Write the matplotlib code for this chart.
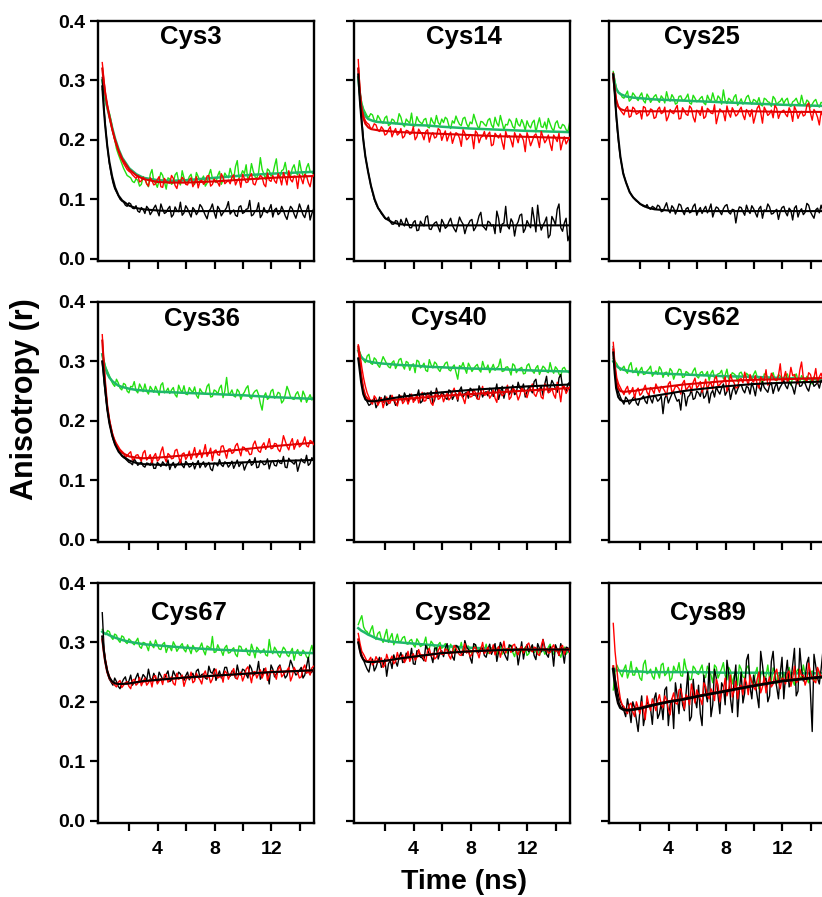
import numpy as np
import matplotlib
matplotlib.use("Agg")
import matplotlib.pyplot as plt

plt.rcParams['font.family'] = ['Liberation Sans', 'DejaVu Sans']
plt.rcParams['font.weight'] = 'bold'

# ---------------- data (anisotropy values in units of 0.001) ----------------
# measured traces: "main" samples every 0.25 ns from 0.1 ns, "mid" samples halfway between
t_start, t_step, n_samp = 0.1, 0.25, 60
# times of the fitted curves
t_fit = [0.1, 0.2, 0.3, 0.45, 0.6, 0.8, 1.0, 1.25, 1.5, 2.0, 2.5, 3.0, 4.0, 5.0, 6.0, 8.0, 10.0, 12.0, 14.9]

titles = ["Cys3", "Cys14", "Cys25", "Cys36", "Cys40", "Cys62", "Cys67", "Cys82", "Cys89"]
y_ticks = [0.0, 0.1, 0.2, 0.3, 0.4]
y_tick_labels = ["0.0", "0.1", "0.2", "0.3", "0.4"]
x_ticks = [2, 4, 6, 8, 10, 12, 14]
x_tick_labels = ["", "4", "", "8", "", "12", ""]

# ---- Cys3
cys3_black = [305, 215, 160, 128, 112, 100, 95, 88, 92, 84, 80, 86,
              76, 84, 79, 90, 72, 83, 78, 88, 74, 81, 95, 77,
              84, 70, 82, 79, 87, 73, 80, 92, 68, 83, 77, 86,
              75, 82, 71, 89, 78, 84, 72, 80, 94, 74, 79, 83,
              70, 85, 77, 81, 66, 88, 75, 79, 83, 69, 90, 76]
cys3_black_mid = [250, 185, 142, 118, 106, 97, 90, 94, 85, 89, 78, 83,
                  88, 74, 85, 80, 92, 76, 84, 70, 87, 79, 73, 89,
                  77, 86, 74, 91, 80, 67, 84, 78, 88, 72, 81, 96,
                  79, 73, 87, 76, 83, 98, 74, 82, 69, 86, 77, 91,
                  82, 74, 88, 72, 79, 84, 68, 92, 74, 81, 65, 84]
cys3_red = [330, 272, 238, 212, 190, 172, 160, 150, 145, 138, 140, 131,
            134, 122, 131, 126, 138, 120, 130, 127, 135, 118, 129, 133,
            124, 136, 127, 119, 132, 128, 140, 125, 130, 122, 137, 129,
            126, 141, 131, 120, 135, 129, 143, 124, 134, 137, 121, 132,
            140, 127, 136, 145, 124, 133, 139, 118, 135, 142, 128, 137]
cys3_red_mid = [300, 255, 225, 200, 181, 166, 155, 147, 141, 135, 129, 137,
                126, 136, 124, 133, 121, 135, 128, 140, 123, 132, 137, 125,
                133, 121, 138, 130, 125, 139, 122, 134, 128, 143, 126, 132,
                137, 124, 135, 142, 128, 138, 126, 133, 140, 125, 144, 130,
                131, 143, 124, 136, 148, 129, 138, 142, 126, 139, 121, 141]
cys3_green = [285, 262, 245, 215, 185, 168, 152, 140, 136, 128, 132, 125,
              135, 121, 150, 127, 132, 140, 117, 134, 128, 145, 124, 136,
              130, 142, 125, 138, 133, 122, 141, 135, 128, 147, 132, 139,
              152, 134, 165, 140, 143, 131, 160, 138, 145, 150, 133, 148,
              142, 168, 137, 150, 144, 139, 158, 141, 149, 136, 160, 145]
cys3_green_mid = [275, 250, 232, 200, 176, 160, 146, 138, 130, 134, 122, 138,
                  126, 142, 130, 120, 145, 129, 136, 125, 141, 130, 148, 127,
                  138, 128, 145, 131, 139, 127, 150, 133, 140, 125, 144, 136,
                  141, 155, 136, 148, 158, 140, 147, 135, 170, 142, 151, 139,
                  156, 140, 148, 162, 138, 152, 145, 165, 140, 153, 147, 142]
cys3_black_fit = [290, 255, 225, 190, 163, 138, 120, 106, 98, 89, 85, 83, 81, 80, 80, 80, 80, 80, 80]
cys3_red_fit = [320, 298, 280, 258, 240, 218, 200, 182, 168, 150, 140, 134, 129, 128, 128, 130, 133, 136, 139]
cys3_green_fit = [300, 285, 272, 255, 240, 220, 202, 184, 170, 152, 142, 136, 132, 131, 132, 136, 140, 143, 146]

# ---- Cys14
cys14_black = [320, 232, 172, 140, 112, 92, 82, 72, 66, 62, 58, 63,
               66, 55, 60, 52, 64, 48, 58, 70, 50, 56, 62, 45,
               60, 54, 68, 50, 57, 63, 42, 58, 66, 52, 72, 55,
               48, 61, 57, 80, 44, 60, 55, 67, 38, 62, 75, 50,
               58, 86, 45, 63, 56, 70, 40, 65, 83, 52, 60, 30]
cys14_black_mid = [262, 198, 155, 124, 100, 86, 76, 68, 70, 58, 64, 54,
                   59, 68, 52, 61, 47, 63, 55, 72, 49, 60, 53, 66,
                   51, 62, 56, 45, 70, 58, 53, 64, 47, 60, 78, 52,
                   63, 55, 42, 68, 58, 88, 50, 61, 56, 73, 44, 64,
                   52, 67, 90, 48, 62, 35, 71, 57, 92, 46, 68, 40]
cys14_red = [335, 252, 232, 226, 220, 225, 214, 218, 210, 222, 213, 208,
             219, 206, 215, 211, 200, 218, 209, 214, 196, 212, 205, 216,
             208, 198, 213, 204, 210, 189, 211, 203, 207, 215, 195, 206,
             201, 213, 192, 207, 210, 184, 204, 199, 212, 195, 206, 180,
             203, 198, 210, 187, 205, 200, 193, 208, 197, 183, 205, 199]
cys14_red_mid = [280, 240, 228, 219, 227, 216, 222, 208, 217, 205, 219, 211,
                 203, 216, 209, 222, 205, 213, 200, 217, 208, 203, 219, 199,
                 215, 207, 194, 212, 203, 217, 200, 209, 185, 211, 204, 214,
                 209, 190, 211, 203, 196, 214, 207, 188, 205, 210, 199, 212,
                 190, 207, 201, 214, 195, 208, 182, 203, 211, 196, 193, 204]
cys14_green = [305, 262, 246, 238, 242, 230, 236, 228, 240, 226, 233, 229,
               238, 222, 231, 245, 224, 232, 227, 236, 220, 230, 241, 225,
               229, 235, 219, 228, 232, 224, 238, 221, 227, 233, 218, 230,
               223, 236, 220, 228, 241, 217, 225, 231, 219, 226, 234, 216,
               224, 229, 213, 237, 221, 218, 227, 215, 232, 219, 224, 214]
cys14_green_mid = [278, 252, 240, 244, 233, 241, 230, 237, 224, 235, 227, 244,
                   226, 235, 228, 222, 239, 229, 234, 222, 237, 226, 229, 235,
                   238, 224, 232, 240, 226, 236, 227, 230, 243, 224, 231, 226,
                   233, 225, 238, 223, 229, 226, 235, 222, 236, 223, 227, 232,
                   220, 233, 226, 222, 230, 236, 219, 228, 221, 226, 217, 229]
cys14_black_fit = [310, 270, 240, 200, 172, 145, 122, 100, 85, 68, 61, 58, 56, 56, 56, 56, 56, 56, 56]
cys14_red_fit = [320, 285, 258, 237, 227, 221, 218, 217, 216, 215, 214, 213, 212, 211, 210, 208, 206, 205, 203]
cys14_green_fit = [305, 280, 262, 248, 240, 235, 233, 231, 230, 229, 228, 227, 225, 224, 222, 219, 217, 215, 213]

# ---- Cys25
cys25_black = [312, 225, 170, 140, 122, 108, 100, 95, 90, 87, 85, 88,
               83, 88, 80, 94, 77, 85, 82, 90, 74, 86, 79, 92,
               81, 76, 88, 83, 70, 87, 79, 84, 91, 75, 82, 78,
               86, 73, 81, 89, 77, 84, 68, 80, 87, 76, 83, 79,
               88, 72, 81, 85, 70, 84, 78, 90, 73, 82, 77, 80]
cys25_black_mid = [268, 195, 154, 130, 114, 104, 97, 92, 88, 91, 83, 86,
                   90, 79, 87, 82, 89, 75, 92, 80, 84, 77, 88, 73,
                   86, 83, 77, 92, 80, 85, 74, 89, 78, 83, 60, 87,
                   79, 90, 76, 84, 70, 88, 82, 92, 75, 80, 66, 86,
                   78, 85, 65, 89, 80, 74, 93, 79, 68, 85, 90, 76]
cys25_red = [312, 262, 250, 242, 256, 240, 252, 245, 235, 254, 243, 250,
             238, 255, 246, 232, 251, 244, 258, 236, 249, 241, 253, 230,
             247, 256, 239, 250, 244, 227, 252, 246, 257, 238, 248, 243,
             255, 234, 246, 251, 240, 258, 228, 249, 244, 237, 253, 245,
             250, 239, 247, 256, 236, 248, 242, 262, 233, 246, 225, 240]
cys25_red_mid = [285, 255, 246, 252, 238, 255, 243, 249, 256, 240, 252, 236,
                 251, 244, 255, 239, 246, 252, 235, 254, 243, 257, 238, 250,
                 241, 236, 253, 245, 259, 240, 248, 232, 245, 254, 240, 250,
                 242, 251, 239, 228, 253, 246, 255, 241, 250, 258, 236, 248,
                 243, 254, 231, 249, 244, 240, 258, 245, 251, 238, 247, 230]
cys25_green = [315, 285, 278, 270, 282, 268, 275, 266, 279, 262, 272, 268,
               276, 263, 270, 281, 265, 271, 262, 274, 267, 277, 260, 270,
               266, 273, 259, 268, 279, 263, 270, 284, 261, 267, 272, 258,
               269, 264, 275, 260, 266, 271, 257, 268, 263, 273, 259, 265,
               261, 270, 256, 266, 262, 275, 258, 264, 260, 268, 255, 262]
cys25_green_mid = [298, 280, 272, 276, 265, 279, 270, 274, 266, 277, 263, 273,
                   267, 274, 262, 269, 276, 260, 273, 266, 271, 262, 275, 264,
                   270, 262, 275, 265, 268, 274, 260, 266, 270, 262, 276, 263,
                   260, 272, 265, 268, 262, 259, 270, 264, 256, 269, 263, 270,
                   267, 258, 264, 270, 259, 262, 267, 255, 265, 259, 263, 257]
cys25_black_fit = [310, 280, 245, 205, 172, 143, 128, 112, 103, 92, 86, 83, 81, 80, 80, 80, 80, 80, 80]
cys25_red_fit = [305, 285, 268, 256, 252, 250, 249, 249, 248, 248, 248, 248, 248, 248, 248, 248, 248, 247, 247]
cys25_green_fit = [310, 296, 286, 280, 277, 275, 273, 272, 271, 270, 269, 268, 267, 266, 265, 263, 261, 259, 257]

# ---- Cys36
cys36_black = [300, 238, 198, 170, 156, 146, 138, 133, 129, 136, 125, 131,
               122, 128, 133, 120, 127, 131, 124, 118, 130, 126, 134, 121,
               128, 124, 119, 133, 127, 122, 130, 116, 128, 135, 123, 129,
               126, 120, 134, 128, 117, 131, 125, 138, 122, 130, 127, 119,
               133, 124, 129, 140, 121, 132, 127, 115, 136, 129, 125, 138]
cys36_black_mid = [265, 215, 183, 162, 150, 141, 136, 130, 126, 131, 128, 124,
                   129, 125, 120, 130, 123, 127, 134, 126, 121, 129, 125, 132,
                   122, 130, 127, 121, 131, 126, 119, 129, 124, 126, 131, 122,
                   132, 127, 123, 130, 125, 135, 128, 121, 133, 126, 136, 130,
                   125, 134, 128, 122, 137, 130, 134, 126, 131, 142, 128, 134]
cys36_red = [345, 250, 203, 176, 162, 152, 146, 141, 148, 136, 143, 132,
             150, 138, 129, 145, 135, 156, 131, 142, 137, 152, 128, 146,
             140, 135, 155, 143, 138, 160, 146, 133, 151, 142, 158, 137,
             153, 147, 162, 141, 155, 150, 144, 166, 149, 158, 152, 170,
             154, 161, 148, 175, 157, 163, 152, 168, 159, 173, 156, 165]
cys36_red_mid = [290, 222, 188, 168, 157, 149, 138, 145, 134, 142, 137, 146,
                 134, 143, 140, 132, 148, 139, 145, 136, 150, 140, 144, 135,
                 149, 144, 138, 151, 147, 140, 154, 149, 143, 157, 148, 152,
                 145, 158, 151, 156, 149, 143, 160, 155, 147, 163, 158, 153,
                 162, 152, 158, 166, 151, 170, 160, 156, 164, 158, 167, 160]
cys36_green = [310, 290, 276, 262, 270, 255, 263, 250, 258, 266, 247, 256,
               262, 245, 253, 258, 243, 264, 250, 246, 256, 240, 252, 259,
               244, 251, 257, 238, 249, 246, 262, 241, 250, 255, 239, 273,
               246, 242, 253, 236, 248, 259, 237, 250, 244, 218, 247, 239,
               253, 241, 246, 234, 258, 240, 236, 249, 232, 243, 238, 235]
cys36_green_mid = [300, 283, 268, 258, 264, 252, 261, 247, 257, 251, 262, 249,
                   250, 258, 248, 251, 260, 247, 255, 252, 244, 260, 248, 245,
                   256, 248, 243, 254, 246, 258, 240, 252, 245, 260, 250, 246,
                   252, 240, 249, 244, 255, 240, 246, 252, 229, 241, 236, 250,
                   238, 248, 230, 244, 250, 237, 245, 240, 250, 231, 244, 241]
cys36_black_fit = [300, 280, 255, 220, 196, 175, 160, 148, 141, 133, 129, 127, 126, 126, 127, 128, 130, 132, 134]
cys36_red_fit = [335, 300, 265, 225, 200, 178, 163, 152, 146, 140, 138, 137, 138, 140, 142, 147, 152, 157, 163]
cys36_green_fit = [312, 300, 290, 280, 273, 267, 263, 259, 257, 254, 252, 251, 249, 248, 247, 245, 243, 240, 237]

# ---- Cys40
cys40_black = [305, 268, 238, 226, 234, 222, 240, 231, 226, 243, 235, 229,
               238, 247, 230, 241, 235, 252, 233, 244, 238, 229, 255, 240,
               245, 236, 250, 242, 233, 257, 246, 238, 252, 244, 259, 240,
               249, 255, 241, 262, 247, 238, 256, 250, 244, 265, 252, 240,
               258, 247, 270, 251, 243, 275, 256, 262, 248, 278, 255, 262]
cys40_black_mid = [290, 250, 232, 228, 238, 228, 235, 242, 230, 237, 226, 244,
                   233, 240, 245, 236, 241, 230, 247, 238, 250, 235, 243, 248,
                   239, 252, 236, 246, 251, 240, 248, 255, 243, 237, 251, 247,
                   242, 253, 248, 236, 258, 252, 244, 260, 247, 255, 262, 249,
                   253, 266, 250, 258, 262, 248, 268, 254, 272, 257, 250, 265]
cys40_red = [328, 290, 258, 240, 228, 238, 232, 222, 240, 230, 236, 225,
             242, 233, 228, 245, 236, 230, 248, 234, 241, 226, 250, 238,
             232, 246, 239, 255, 236, 243, 229, 250, 241, 247, 236, 258,
             244, 238, 252, 231, 249, 245, 260, 240, 252, 235, 256, 246,
             250, 262, 241, 255, 237, 259, 249, 244, 265, 232, 258, 252]
cys40_red_mid = [312, 272, 247, 232, 242, 226, 239, 233, 229, 243, 231, 238,
                 229, 240, 236, 231, 244, 239, 233, 247, 230, 242, 236, 245,
                 240, 235, 248, 242, 250, 238, 246, 240, 253, 237, 249, 243,
                 250, 243, 238, 254, 242, 250, 236, 255, 247, 243, 251, 239,
                 256, 245, 250, 240, 262, 247, 255, 238, 252, 258, 246, 257]
cys40_green = [322, 306, 298, 312, 295, 303, 290, 308, 296, 289, 301, 294,
               305, 287, 298, 293, 281, 300, 292, 285, 303, 289, 296, 283,
               291, 299, 284, 294, 270, 290, 288, 297, 283, 292, 286, 300,
               287, 281, 295, 289, 304, 284, 291, 277, 293, 286, 290, 280,
               296, 284, 289, 278, 292, 283, 298, 280, 287, 275, 290, 283]
cys40_green_mid = [315, 302, 309, 297, 306, 294, 299, 302, 291, 298, 288, 303,
                   293, 300, 285, 296, 302, 289, 297, 283, 294, 299, 287, 291,
                   297, 286, 290, 282, 293, 298, 280, 291, 288, 295, 282, 290,
                   294, 288, 285, 292, 283, 290, 286, 296, 281, 288, 279, 293,
                   287, 280, 293, 285, 289, 281, 286, 291, 279, 288, 284, 280]
cys40_black_fit = [305, 285, 265, 245, 236, 233, 233, 233, 234, 236, 238, 240, 243, 246, 248, 252, 255, 258, 261]
cys40_red_fit = [325, 300, 278, 255, 242, 236, 234, 233, 233, 234, 235, 236, 238, 240, 242, 245, 248, 251, 255]
cys40_green_fit = [318, 312, 308, 304, 302, 300, 299, 298, 297, 296, 295, 294, 293, 291, 290, 288, 287, 285, 283]

# ---- Cys62
cys62_black = [325, 258, 240, 228, 236, 232, 241, 226, 238, 233, 245, 230,
               240, 236, 212, 244, 238, 249, 233, 218, 246, 240, 252, 238,
               247, 255, 242, 230, 251, 257, 245, 262, 249, 236, 258, 253,
               261, 247, 256, 264, 242, 259, 266, 252, 260, 246, 264, 257,
               268, 254, 262, 245, 270, 259, 263, 250, 268, 261, 255, 266]
cys62_black_mid = [285, 248, 233, 240, 228, 238, 230, 236, 242, 229, 237, 243,
                   233, 242, 238, 230, 245, 240, 236, 248, 225, 243, 236, 250,
                   241, 238, 253, 246, 240, 250, 255, 243, 257, 250, 245, 260,
                   252, 258, 245, 255, 262, 250, 256, 248, 264, 257, 250, 262,
                   259, 265, 256, 262, 258, 266, 255, 263, 258, 264, 268, 260]
cys62_red = [332, 272, 256, 244, 258, 249, 238, 255, 246, 260, 243, 252,
             262, 248, 255, 242, 266, 251, 258, 245, 268, 256, 250, 272,
             259, 248, 270, 262, 253, 275, 261, 266, 250, 278, 264, 257,
             271, 282, 260, 268, 276, 255, 270, 286, 263, 274, 268, 296,
             272, 265, 290, 278, 262, 299, 270, 281, 266, 288, 274, 270]
cys62_red_mid = [295, 262, 250, 253, 245, 256, 251, 243, 253, 248, 256, 246,
                 255, 258, 250, 262, 248, 258, 254, 263, 251, 260, 265, 255,
                 266, 258, 252, 264, 270, 258, 265, 274, 260, 268, 255, 270,
                 264, 270, 278, 265, 262, 274, 268, 260, 280, 269, 276, 265,
                 283, 270, 276, 268, 285, 272, 266, 278, 272, 264, 280, 273]
cys62_green = [305, 296, 285, 292, 280, 298, 283, 276, 290, 279, 287, 275,
               284, 291, 273, 282, 288, 270, 280, 286, 274, 281, 277, 289,
               272, 283, 278, 268, 285, 276, 280, 271, 287, 274, 279, 266,
               282, 273, 277, 269, 284, 272, 262, 278, 270, 281, 267, 275,
               271, 279, 260, 274, 269, 276, 265, 272, 262, 270, 267, 273]
cys62_green_mid = [300, 290, 288, 284, 293, 281, 289, 285, 278, 284, 292, 280,
                   278, 286, 281, 275, 284, 279, 287, 273, 283, 277, 284, 275,
                   281, 276, 283, 280, 272, 279, 285, 277, 270, 281, 276, 280,
                   275, 280, 272, 278, 274, 269, 279, 273, 276, 270, 278, 271,
                   277, 268, 273, 279, 265, 271, 275, 268, 274, 266, 271, 269]
cys62_black_fit = [315, 280, 255, 240, 235, 233, 233, 234, 235, 237, 240, 242, 246, 250, 253, 258, 262, 264, 266]
cys62_red_fit = [320, 290, 268, 255, 250, 249, 249, 250, 250, 252, 254, 255, 258, 261, 263, 267, 269, 270, 272]
cys62_green_fit = [300, 296, 293, 290, 288, 286, 285, 284, 283, 282, 281, 280, 279, 278, 277, 275, 274, 272, 270]

# ---- Cys67
cys67_black = [350, 262, 238, 228, 234, 222, 238, 230, 245, 233, 248, 237,
               242, 255, 236, 240, 250, 238, 246, 234, 252, 241, 247, 236,
               250, 243, 238, 255, 246, 240, 260, 248, 236, 252, 246, 258,
               243, 250, 262, 245, 253, 240, 256, 248, 268, 244, 252, 230,
               255, 247, 262, 250, 244, 270, 252, 248, 258, 245, 275, 250]
cys67_black_mid = [290, 248, 233, 240, 226, 232, 242, 235, 228, 241, 234, 246,
                   236, 240, 248, 232, 244, 239, 252, 237, 245, 250, 240, 244,
                   237, 248, 252, 241, 247, 238, 250, 256, 244, 240, 258, 245,
                   252, 240, 248, 255, 246, 262, 244, 250, 238, 256, 248, 262,
                   242, 258, 250, 240, 256, 262, 245, 253, 240, 260, 248, 255]
cys67_red = [310, 268, 243, 232, 225, 236, 228, 234, 222, 238, 231, 227,
             240, 232, 225, 244, 235, 229, 246, 237, 231, 248, 240, 226,
             243, 250, 235, 241, 230, 252, 244, 238, 255, 242, 233, 249,
             245, 256, 238, 250, 243, 259, 232, 251, 247, 240, 257, 244,
             252, 238, 260, 246, 253, 235, 258, 249, 242, 262, 251, 257]
cys67_red_mid = [285, 252, 236, 228, 233, 224, 232, 226, 236, 228, 241, 234,
                 228, 238, 243, 230, 239, 246, 233, 242, 228, 238, 245, 236,
                 239, 232, 248, 237, 246, 240, 232, 250, 240, 246, 252, 238,
                 250, 241, 247, 235, 255, 246, 250, 240, 254, 248, 236, 252,
                 246, 255, 242, 250, 258, 243, 252, 240, 256, 248, 245, 260]
cys67_green = [322, 313, 318, 305, 312, 300, 309, 298, 303, 296, 307, 290,
               299, 286, 295, 304, 289, 297, 283, 292, 301, 285, 294, 288,
               296, 281, 290, 287, 299, 279, 292, 310, 284, 289, 278, 295,
               283, 291, 276, 293, 285, 280, 297, 274, 288, 284, 279, 305,
               281, 287, 275, 292, 279, 284, 270, 288, 278, 283, 272, 295]
cys67_green_mid = [316, 320, 309, 314, 304, 311, 301, 306, 299, 302, 293, 300,
                   294, 302, 291, 296, 288, 300, 292, 286, 295, 290, 298, 284,
                   289, 295, 284, 292, 286, 294, 288, 283, 296, 286, 291, 282,
                   288, 280, 294, 285, 290, 278, 287, 292, 282, 289, 277, 286,
                   292, 279, 284, 288, 276, 290, 283, 279, 287, 276, 285, 281]
cys67_black_fit = [310, 288, 270, 252, 241, 234, 231, 230, 230, 231, 233, 235, 237, 239, 241, 244, 247, 250, 253]
cys67_red_fit = [305, 285, 268, 250, 240, 233, 231, 230, 230, 231, 233, 234, 237, 239, 241, 244, 247, 250, 253]
cys67_green_fit = [318, 316, 315, 314, 312, 310, 308, 306, 304, 301, 299, 297, 295, 293, 291, 288, 286, 284, 282]

# ---- Cys82
cys82_black = [300, 278, 262, 250, 272, 258, 275, 262, 243, 270, 279, 260,
               283, 268, 277, 290, 263, 285, 274, 295, 280, 266, 291, 283,
               276, 298, 285, 270, 293, 281, 303, 288, 265, 296, 284, 290,
               275, 297, 288, 268, 300, 283, 270, 294, 287, 262, 301, 290,
               284, 296, 271, 290, 305, 280, 293, 260, 288, 298, 265, 291]
cys82_black_mid = [288, 270, 255, 266, 252, 268, 258, 272, 264, 256, 268, 275,
                   266, 282, 272, 264, 286, 275, 269, 288, 278, 290, 272, 286,
                   290, 280, 276, 295, 286, 278, 292, 274, 298, 282, 290, 278,
                   289, 280, 298, 284, 292, 276, 296, 285, 292, 280, 272, 296,
                   290, 278, 298, 284, 292, 275, 288, 296, 278, 285, 292, 282]
cys82_red = [315, 285, 274, 270, 262, 276, 266, 258, 280, 271, 264, 283,
             273, 266, 285, 276, 270, 288, 279, 268, 290, 282, 275, 293,
             280, 287, 272, 295, 284, 278, 298, 286, 280, 292, 274, 300,
             286, 281, 296, 288, 275, 302, 290, 283, 297, 279, 293, 288,
             299, 284, 291, 278, 305, 289, 283, 296, 287, 292, 280, 290]
cys82_red_mid = [298, 280, 268, 275, 266, 270, 274, 262, 270, 277, 268, 272,
                 279, 272, 268, 281, 275, 279, 272, 286, 277, 272, 286, 280,
                 289, 278, 284, 290, 279, 288, 282, 276, 291, 284, 288, 281,
                 292, 285, 279, 293, 287, 282, 289, 295, 284, 290, 282, 296,
                 287, 292, 280, 294, 286, 282, 291, 285, 278, 295, 287, 284]
cys82_green = [330, 345, 320, 312, 328, 305, 318, 300, 322, 308, 296, 314,
               302, 310, 297, 305, 292, 301, 295, 309, 290, 298, 286, 300,
               293, 288, 297, 283, 292, 300, 287, 294, 281, 296, 289, 285,
               297, 284, 291, 279, 293, 287, 282, 295, 276, 289, 286, 292,
               281, 294, 285, 278, 290, 284, 297, 280, 288, 275, 292, 285]
cys82_green_mid = [338, 326, 318, 321, 310, 315, 306, 312, 300, 315, 304, 300,
                   308, 298, 303, 296, 306, 293, 298, 288, 302, 292, 296, 290,
                   298, 285, 291, 295, 288, 282, 293, 286, 290, 284, 292, 287,
                   281, 290, 286, 293, 280, 288, 294, 283, 290, 282, 287, 278,
                   289, 283, 291, 286, 280, 292, 285, 289, 282, 287, 280, 288]
cys82_black_fit = [300, 288, 278, 271, 268, 267, 267, 267, 268, 269, 271, 273, 276, 279, 282, 285, 287, 288, 288]
cys82_red_fit = [305, 290, 280, 272, 269, 268, 268, 268, 268, 269, 271, 273, 276, 279, 282, 285, 287, 288, 288]
cys82_green_fit = [324, 322, 320, 318, 316, 313, 311, 308, 306, 303, 301, 300, 298, 296, 294, 291, 289, 287, 285]

# ---- Cys89
cys89_black = [258, 225, 200, 185, 205, 165, 190, 150, 210, 178, 195, 162,
               215, 180, 170, 225, 195, 155, 210, 230, 185, 250, 175, 205,
               228, 160, 215, 265, 195, 240, 180, 225, 270, 205, 235, 175,
               250, 215, 280, 205, 230, 190, 262, 240, 210, 285, 225, 248,
               205, 270, 235, 290, 218, 255, 240, 275, 150, 260, 230, 285]
cys89_black_mid = [240, 210, 195, 175, 188, 200, 170, 185, 160, 200, 188, 205,
                   172, 198, 220, 160, 205, 232, 180, 195, 215, 168, 238, 190,
                   180, 245, 200, 175, 255, 210, 232, 195, 248, 182, 262, 220,
                   198, 270, 225, 245, 210, 285, 235, 200, 268, 240, 205, 275,
                   245, 225, 262, 210, 290, 235, 265, 215, 280, 240, 255, 220]
cys89_red = [332, 255, 205, 192, 180, 198, 175, 190, 200, 170, 195, 205,
             185, 212, 190, 203, 178, 215, 196, 222, 188, 207, 230, 198,
             212, 195, 226, 205, 215, 238, 200, 220, 210, 245, 218, 205,
             228, 240, 212, 232, 220, 250, 225, 215, 242, 230, 255, 222,
             238, 248, 226, 260, 235, 244, 228, 265, 240, 232, 250, 245]
cys89_red_mid = [285, 225, 195, 185, 195, 183, 200, 180, 188, 210, 185, 196,
                 202, 195, 210, 188, 205, 198, 220, 205, 212, 195, 215, 220,
                 205, 232, 210, 222, 202, 228, 215, 240, 222, 208, 235, 225,
                 212, 232, 245, 225, 238, 215, 242, 232, 225, 248, 236, 240,
                 230, 252, 240, 232, 255, 245, 238, 250, 235, 258, 242, 238]
cys89_green = [220, 262, 248, 255, 240, 268, 245, 252, 236, 270, 250, 243,
               258, 240, 265, 248, 235, 260, 252, 244, 272, 250, 238, 256,
               246, 262, 241, 253, 232, 258, 248, 266, 237, 252, 244, 228,
               255, 240, 261, 235, 248, 222, 252, 243, 238, 257, 230, 246,
               250, 236, 244, 228, 255, 240, 247, 232, 252, 238, 245, 242]
cys89_green_mid = [250, 255, 242, 262, 250, 245, 258, 240, 263, 247, 255, 238,
                   250, 262, 244, 258, 240, 252, 266, 243, 256, 237, 260, 248,
                   255, 240, 260, 245, 262, 240, 256, 244, 258, 230, 250, 262,
                   242, 256, 245, 230, 258, 246, 240, 262, 235, 250, 244, 236,
                   240, 258, 236, 250, 242, 262, 238, 249, 235, 256, 240, 250]
cys89_black_fit = [255, 235, 215, 198, 190, 187, 186, 186, 187, 189, 192, 195, 200, 204, 209, 218, 227, 235, 242]
cys89_red_fit = [260, 238, 216, 199, 191, 188, 187, 187, 188, 190, 193, 196, 201, 205, 210, 219, 228, 236, 243]
cys89_green_fit = [255, 254, 253, 253, 252, 252, 252, 251, 251, 251, 250, 250, 250, 250, 250, 249, 249, 248, 248]

panels = [
    ((cys3_black, cys3_black_mid), (cys3_red, cys3_red_mid), (cys3_green, cys3_green_mid),
     cys3_black_fit, cys3_red_fit, cys3_green_fit),
    ((cys14_black, cys14_black_mid), (cys14_red, cys14_red_mid), (cys14_green, cys14_green_mid),
     cys14_black_fit, cys14_red_fit, cys14_green_fit),
    ((cys25_black, cys25_black_mid), (cys25_red, cys25_red_mid), (cys25_green, cys25_green_mid),
     cys25_black_fit, cys25_red_fit, cys25_green_fit),
    ((cys36_black, cys36_black_mid), (cys36_red, cys36_red_mid), (cys36_green, cys36_green_mid),
     cys36_black_fit, cys36_red_fit, cys36_green_fit),
    ((cys40_black, cys40_black_mid), (cys40_red, cys40_red_mid), (cys40_green, cys40_green_mid),
     cys40_black_fit, cys40_red_fit, cys40_green_fit),
    ((cys62_black, cys62_black_mid), (cys62_red, cys62_red_mid), (cys62_green, cys62_green_mid),
     cys62_black_fit, cys62_red_fit, cys62_green_fit),
    ((cys67_black, cys67_black_mid), (cys67_red, cys67_red_mid), (cys67_green, cys67_green_mid),
     cys67_black_fit, cys67_red_fit, cys67_green_fit),
    ((cys82_black, cys82_black_mid), (cys82_red, cys82_red_mid), (cys82_green, cys82_green_mid),
     cys82_black_fit, cys82_red_fit, cys82_green_fit),
    ((cys89_black, cys89_black_mid), (cys89_red, cys89_red_mid), (cys89_green, cys89_green_mid),
     cys89_black_fit, cys89_red_fit, cys89_green_fit),
]

# ---------------- layout / style ----------------
W, H = 822, 897
fig = plt.figure(figsize=(W / 100, H / 100), dpi=100)

col_left_px = [98, 354, 609]
row_top_px = [21, 302, 583]
ax_w_px, ax_h_px = 216, 240
title_pos = [(0.43, 0.935), (0.51, 0.935), (0.43, 0.935),
             (0.48, 0.93), (0.44, 0.935), (0.43, 0.935),
             (0.42, 0.875), (0.46, 0.875), (0.46, 0.875)]

c_black, c_red, c_green = '#000000', '#ff0000', '#22e011'
c_black_fit, c_red_fit, c_green_fit = '#000000', '#dd0000', '#1fb86a'

t_main = t_start + t_step * np.arange(n_samp)
t_all = np.empty(2 * n_samp)
t_all[0::2] = t_main
t_all[1::2] = t_main + t_step / 2
tf = np.array(t_fit)


def trace(pair):
    main, mid = pair
    y = np.empty(2 * n_samp)
    y[0::2] = main
    y[1::2] = mid
    return y / 1000


for i, (blk, red, grn, blk_f, red_f, grn_f) in enumerate(panels):
    r, c = divmod(i, 3)
    left = col_left_px[c] / W
    bottom = 1 - (row_top_px[r] + ax_h_px) / H
    ax = fig.add_axes([left, bottom, ax_w_px / W, ax_h_px / H])

    ax.plot(t_all, trace(grn), color=c_green, lw=1.0, zorder=2)
    ax.plot(tf, np.array(grn_f) / 1000, color=c_green_fit, lw=1.8, zorder=2.5)
    ax.plot(t_all, trace(blk), color=c_black, lw=1.0, zorder=3)
    ax.plot(t_all, trace(red), color=c_red, lw=1.0, zorder=4)
    ax.plot(tf, np.array(red_f) / 1000, color=c_red_fit, lw=1.5, zorder=5)
    ax.plot(tf, np.array(blk_f) / 1000, color=c_black_fit, lw=2.0 if i == 8 else 1.5, zorder=6)

    ax.set_xlim(-0.2, 15.0)
    ax.set_ylim(-0.004, 0.4)
    ax.set_yticks(y_ticks)
    ax.set_xticks(x_ticks)
    if c == 0:
        ax.set_yticklabels(y_tick_labels)
    else:
        ax.set_yticklabels([])
    if r == 2:
        ax.set_xticklabels(x_tick_labels)
    else:
        ax.set_xticklabels([])
    ax.tick_params(direction='out', length=6, width=1.6, labelsize=14, pad=3)
    ax.tick_params(axis='x', pad=7)
    for lab in ax.get_xticklabels() + ax.get_yticklabels():
        lab.set_fontweight('bold')
    for s in ax.spines.values():
        s.set_linewidth(1.7)

    tx, ty = title_pos[i]
    ax.text(tx, ty, titles[i], transform=ax.transAxes, ha='center', va='center',
            fontsize=18.5, fontweight='bold')

fig.text(25 / W, 1 - 399 / H, "Anisotropy (r)", rotation=90, ha='center', va='center',
         fontsize=22, fontweight='bold')
fig.text(464 / W, 1 - 882 / H, "Time (ns)", ha='center', va='center',
         fontsize=20.5, fontweight='bold')

fig.savefig("out.png", dpi=100)
